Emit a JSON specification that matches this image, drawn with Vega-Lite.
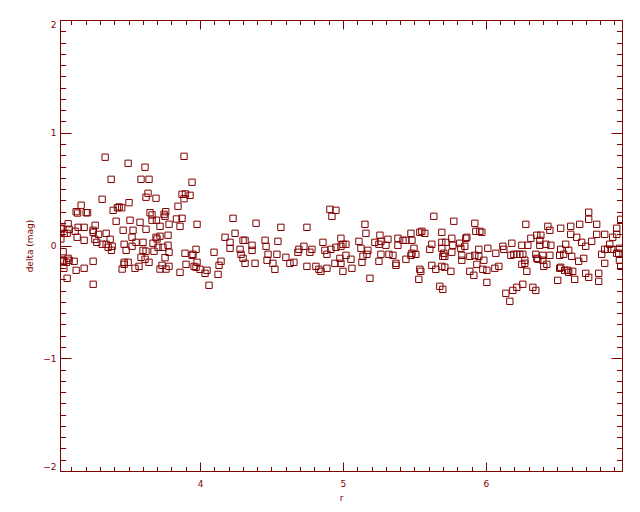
{
"$schema": "https://vega.github.io/schema/vega-lite/v6.json",
"width": 562, "height": 451,
"autosize": "none",
"padding": {"left": 60, "top": 20, "right": 18, "bottom": 41},
"background": "white",
"config": {
  "view": {"stroke": "#800000", "strokeWidth": 1},
  "axis": {"domain": false, "grid": false, "tickColor": "#800000", "labelColor": "#800000", "titleColor": "#800000", "labelFont": "DejaVu Sans", "titleFont": "DejaVu Sans", "labelFontSize": 9, "titleFontSize": 9, "titleFontWeight": "normal", "tickWidth": 1}
},
"data": {"values": [
{"r":3.336,"delta":0.783},{"r":3.497,"delta":0.729},{"r":3.615,"delta":0.694},{"r":3.888,"delta":0.791},{"r":3.378,"delta":0.587},{"r":3.587,"delta":0.587},{"r":3.643,"delta":0.587},{"r":3.944,"delta":0.561},{"r":3.636,"delta":0.463},{"r":3.622,"delta":0.428},
{"r":3.692,"delta":0.419},{"r":3.874,"delta":0.454},{"r":3.898,"delta":0.457},{"r":3.930,"delta":0.445},{"r":3.888,"delta":0.415},{"r":3.315,"delta":0.410},{"r":3.434,"delta":0.342},{"r":3.503,"delta":0.380},{"r":3.846,"delta":0.348},{"r":3.168,"delta":0.357},
{"r":3.133,"delta":0.300},{"r":3.143,"delta":0.288},{"r":3.203,"delta":0.291},{"r":3.213,"delta":0.291},{"r":3.392,"delta":0.312},{"r":3.422,"delta":0.335},{"r":3.452,"delta":0.335},{"r":3.650,"delta":0.291},{"r":3.664,"delta":0.271},{"r":3.760,"delta":0.300},
{"r":3.748,"delta":0.277},{"r":3.755,"delta":0.259},{"r":3.835,"delta":0.235},{"r":3.874,"delta":0.241},{"r":3.860,"delta":0.170},{"r":3.979,"delta":0.188},{"r":3.077,"delta":0.193},{"r":3.266,"delta":0.179},{"r":3.413,"delta":0.215},{"r":3.510,"delta":0.224},
{"r":3.580,"delta":0.206},{"r":3.664,"delta":0.224},{"r":3.695,"delta":0.224},{"r":3.720,"delta":0.170},{"r":3.783,"delta":0.188},{"r":3.622,"delta":0.144},{"r":3.462,"delta":0.135},{"r":3.531,"delta":0.135},{"r":3.031,"delta":0.146},{"r":3.084,"delta":0.144},
{"r":3.147,"delta":0.161},{"r":3.189,"delta":0.161},{"r":3.126,"delta":0.126},{"r":3.070,"delta":0.108},{"r":3.252,"delta":0.135},{"r":3.252,"delta":0.117},{"r":3.290,"delta":0.099},{"r":3.343,"delta":0.108},{"r":3.140,"delta":0.073},{"r":3.189,"delta":0.046},
{"r":3.264,"delta":0.055},{"r":3.278,"delta":0.028},{"r":3.315,"delta":0.011},{"r":3.343,"delta":0.011},{"r":3.371,"delta":0.055},{"r":3.357,"delta":-0.016},{"r":3.380,"delta":-0.043},{"r":3.385,"delta":-0.007},{"r":3.469,"delta":0.011},{"r":3.483,"delta":-0.043},
{"r":3.524,"delta":-0.007},{"r":3.524,"delta":0.073},{"r":3.552,"delta":0.028},{"r":3.601,"delta":0.028},{"r":3.601,"delta":-0.043},{"r":3.622,"delta":-0.051},{"r":3.678,"delta":-0.051},{"r":3.671,"delta":0.020},{"r":3.692,"delta":0.073},{"r":3.706,"delta":-0.016},
{"r":3.699,"delta":0.058},{"r":3.720,"delta":0.082},{"r":3.741,"delta":-0.016},{"r":3.776,"delta":0.002},{"r":3.755,"delta":-0.108},{"r":3.783,"delta":-0.060},{"r":3.776,"delta":0.091},{"r":3.587,"delta":-0.105},{"r":3.615,"delta":-0.122},{"r":3.643,"delta":-0.149},
{"r":3.573,"delta":-0.185},{"r":3.545,"delta":-0.202},{"r":3.455,"delta":-0.209},{"r":3.469,"delta":-0.149},{"r":3.497,"delta":-0.149},{"r":3.469,"delta":-0.167},{"r":3.720,"delta":-0.209},{"r":3.734,"delta":-0.176},{"r":3.762,"delta":-0.209},{"r":3.783,"delta":-0.185},
{"r":3.860,"delta":-0.238},{"r":3.902,"delta":-0.167},{"r":3.895,"delta":-0.069},{"r":3.944,"delta":-0.087},{"r":3.972,"delta":-0.034},{"r":3.951,"delta":-0.078},{"r":3.979,"delta":-0.149},{"r":3.958,"delta":-0.185},{"r":3.972,"delta":-0.193},{"r":4.000,"delta":-0.211},
{"r":4.035,"delta":-0.247},{"r":4.063,"delta":-0.353},{"r":3.252,"delta":-0.344},{"r":3.252,"delta":-0.140},{"r":3.189,"delta":-0.202},{"r":3.133,"delta":-0.220},{"r":3.119,"delta":-0.140},{"r":3.070,"delta":-0.291},{"r":3.047,"delta":-0.202},{"r":3.047,"delta":-0.140},
{"r":3.042,"delta":-0.055},{"r":3.038,"delta":-0.129},{"r":3.084,"delta":-0.131},{"r":3.066,"delta":-0.149},{"r":3.026,"delta":0.058},{"r":3.049,"delta":0.108},{"r":3.077,"delta":-0.114},{"r":3.026,"delta":0.153},
{"r":4.231,"delta":0.241},{"r":4.392,"delta":0.197},{"r":4.566,"delta":0.161},{"r":4.748,"delta":0.161},{"r":4.909,"delta":0.321},{"r":4.951,"delta":0.312},{"r":4.923,"delta":0.259},{"r":4.245,"delta":0.108},{"r":4.175,"delta":0.073},{"r":4.210,"delta":0.028},
{"r":4.210,"delta":-0.025},{"r":4.301,"delta":0.046},{"r":4.315,"delta":0.046},{"r":4.364,"delta":0.002},{"r":4.364,"delta":-0.043},{"r":4.280,"delta":-0.034},{"r":4.287,"delta":-0.078},{"r":4.301,"delta":-0.114},{"r":4.315,"delta":-0.158},{"r":4.385,"delta":-0.158},
{"r":4.455,"delta":0.046},{"r":4.462,"delta":-0.007},{"r":4.545,"delta":0.037},{"r":4.476,"delta":-0.078},{"r":4.538,"delta":-0.078},{"r":4.469,"delta":-0.131},{"r":4.510,"delta":-0.158},{"r":4.524,"delta":-0.211},{"r":4.601,"delta":-0.105},{"r":4.629,"delta":-0.158},
{"r":4.657,"delta":-0.149},{"r":4.727,"delta":-0.007},{"r":4.692,"delta":-0.034},{"r":4.685,"delta":-0.060},{"r":4.783,"delta":-0.034},{"r":4.769,"delta":-0.060},{"r":4.860,"delta":0.028},{"r":4.874,"delta":-0.043},{"r":4.888,"delta":-0.078},{"r":4.916,"delta":-0.034},
{"r":4.951,"delta":-0.016},{"r":4.986,"delta":0.064},{"r":4.986,"delta":-0.007},{"r":5.000,"delta":0.011},{"r":5.021,"delta":0.011},{"r":4.979,"delta":-0.114},{"r":5.021,"delta":-0.087},{"r":4.944,"delta":-0.158},{"r":4.986,"delta":-0.158},{"r":4.748,"delta":-0.185},
{"r":4.811,"delta":-0.185},{"r":4.832,"delta":-0.211},{"r":4.846,"delta":-0.229},{"r":4.888,"delta":-0.202},{"r":5.000,"delta":-0.229},{"r":4.098,"delta":-0.060},{"r":4.147,"delta":-0.140},{"r":4.133,"delta":-0.176},{"r":4.049,"delta":-0.220},{"r":4.126,"delta":-0.256},
{"r":5.154,"delta":0.188},{"r":5.161,"delta":0.108},{"r":5.259,"delta":0.091},{"r":5.224,"delta":0.028},{"r":5.266,"delta":0.037},{"r":5.252,"delta":0.011},{"r":5.301,"delta":0.002},{"r":5.315,"delta":0.055},{"r":5.112,"delta":0.037},{"r":5.126,"delta":-0.025},
{"r":5.175,"delta":-0.043},{"r":5.168,"delta":-0.078},{"r":5.140,"delta":-0.096},{"r":5.133,"delta":-0.149},{"r":5.056,"delta":-0.122},{"r":5.063,"delta":-0.202},{"r":5.189,"delta":-0.291},{"r":5.266,"delta":-0.078},{"r":5.252,"delta":-0.140},{"r":5.322,"delta":-0.078},
{"r":5.350,"delta":-0.087},{"r":5.371,"delta":-0.158},{"r":5.371,"delta":-0.176},{"r":5.385,"delta":0.064},{"r":5.385,"delta":0.002},{"r":5.420,"delta":0.046},{"r":5.441,"delta":0.046},{"r":5.476,"delta":0.108},{"r":5.483,"delta":0.046},{"r":5.441,"delta":-0.122},
{"r":5.497,"delta":-0.025},{"r":5.483,"delta":-0.069},{"r":5.476,"delta":-0.087},{"r":5.510,"delta":-0.078},{"r":5.538,"delta":0.117},{"r":5.552,"delta":0.126},{"r":5.573,"delta":0.108},{"r":5.636,"delta":0.259},{"r":5.776,"delta":0.215},{"r":5.692,"delta":0.117},
{"r":5.923,"delta":0.197},{"r":5.930,"delta":0.126},{"r":5.958,"delta":0.126},{"r":5.972,"delta":0.117},{"r":5.622,"delta":0.011},{"r":5.608,"delta":-0.034},{"r":5.692,"delta":0.028},{"r":5.692,"delta":-0.025},{"r":5.720,"delta":0.028},{"r":5.762,"delta":0.064},
{"r":5.769,"delta":0.002},{"r":5.762,"delta":-0.060},{"r":5.706,"delta":-0.069},{"r":5.713,"delta":-0.096},{"r":5.699,"delta":-0.096},{"r":5.818,"delta":0.020},{"r":5.825,"delta":-0.025},{"r":5.860,"delta":0.064},{"r":5.867,"delta":0.073},{"r":5.853,"delta":-0.007},
{"r":5.832,"delta":-0.087},{"r":5.832,"delta":-0.131},{"r":5.888,"delta":-0.096},{"r":5.923,"delta":-0.087},{"r":5.951,"delta":-0.034},{"r":5.951,"delta":-0.096},{"r":5.986,"delta":-0.131},{"r":6.014,"delta":-0.025},{"r":5.937,"delta":-0.167},{"r":5.979,"delta":-0.211},
{"r":6.007,"delta":-0.220},{"r":5.888,"delta":-0.229},{"r":5.916,"delta":-0.264},{"r":5.622,"delta":-0.176},{"r":5.650,"delta":-0.211},{"r":5.692,"delta":-0.185},{"r":5.713,"delta":-0.193},{"r":5.755,"delta":-0.229},{"r":5.538,"delta":-0.211},{"r":5.545,"delta":-0.229},
{"r":5.531,"delta":-0.300},{"r":5.678,"delta":-0.362},{"r":5.699,"delta":-0.389},{"r":6.007,"delta":-0.327},
{"r":6.280,"delta":0.188},{"r":6.434,"delta":0.170},{"r":6.448,"delta":0.135},{"r":6.524,"delta":0.153},{"r":6.594,"delta":0.170},{"r":6.657,"delta":0.188},{"r":6.720,"delta":0.295},{"r":6.720,"delta":0.232},{"r":6.776,"delta":0.188},{"r":6.916,"delta":0.153},
{"r":6.944,"delta":0.232},{"r":6.357,"delta":0.091},{"r":6.385,"delta":0.091},{"r":6.315,"delta":0.064},{"r":6.378,"delta":0.046},{"r":6.378,"delta":0.002},{"r":6.420,"delta":0.011},{"r":6.455,"delta":0.002},{"r":6.594,"delta":0.099},{"r":6.636,"delta":0.073},
{"r":6.671,"delta":0.028},{"r":6.699,"delta":-0.007},{"r":6.741,"delta":0.037},{"r":6.776,"delta":0.099},{"r":6.832,"delta":0.099},{"r":6.888,"delta":0.073},{"r":6.916,"delta":0.099},{"r":6.867,"delta":0.011},{"r":6.559,"delta":0.011},{"r":6.524,"delta":-0.034},
{"r":6.580,"delta":-0.043},{"r":6.601,"delta":-0.096},{"r":6.545,"delta":-0.078},{"r":6.517,"delta":-0.087},{"r":6.685,"delta":-0.114},{"r":6.650,"delta":-0.140},{"r":6.811,"delta":-0.078},{"r":6.832,"delta":-0.034},{"r":6.853,"delta":-0.034},{"r":6.881,"delta":-0.034},
{"r":6.916,"delta":-0.069},{"r":6.930,"delta":-0.069},{"r":6.832,"delta":-0.158},{"r":6.935,"delta":-0.131},{"r":6.944,"delta":-0.185},{"r":6.935,"delta":-0.025},{"r":6.070,"delta":-0.069},{"r":6.119,"delta":-0.007},{"r":6.126,"delta":-0.034},{"r":6.182,"delta":0.020},
{"r":6.175,"delta":-0.087},{"r":6.196,"delta":-0.078},{"r":6.217,"delta":-0.078},{"r":6.238,"delta":-0.078},{"r":6.259,"delta":-0.078},{"r":6.252,"delta":0.002},{"r":6.294,"delta":0.002},{"r":6.273,"delta":-0.131},{"r":6.273,"delta":-0.158},{"r":6.252,"delta":-0.167},
{"r":6.287,"delta":-0.229},{"r":6.350,"delta":-0.078},{"r":6.357,"delta":-0.114},{"r":6.364,"delta":-0.122},{"r":6.399,"delta":-0.087},{"r":6.399,"delta":-0.131},{"r":6.406,"delta":-0.185},{"r":6.427,"delta":-0.167},{"r":6.448,"delta":-0.087},{"r":6.063,"delta":-0.202},
{"r":6.091,"delta":-0.185},{"r":6.517,"delta":-0.202},{"r":6.524,"delta":-0.193},{"r":6.552,"delta":-0.220},{"r":6.573,"delta":-0.220},{"r":6.580,"delta":-0.238},{"r":6.608,"delta":-0.229},{"r":6.699,"delta":-0.247},{"r":6.720,"delta":-0.282},{"r":6.790,"delta":-0.247},
{"r":6.790,"delta":-0.318},{"r":6.622,"delta":-0.300},{"r":6.503,"delta":-0.309},{"r":6.259,"delta":-0.344},{"r":6.217,"delta":-0.371},{"r":6.189,"delta":-0.398},{"r":6.140,"delta":-0.424},{"r":6.168,"delta":-0.495},{"r":6.329,"delta":-0.371},{"r":6.350,"delta":-0.398}
]},
"resolve": {"axis": {"x": "independent", "y": "independent"}},
"layer": [
 {
  "mark": {"type": "point", "shape": "square", "filled": false, "stroke": "#800000", "strokeWidth": 1, "size": 40, "opacity": 1, "clip": true},
  "encoding": {
   "x": {"field": "r", "type": "quantitative", "scale": {"domain": [3.02, 6.953], "nice": false, "zero": false},
         "axis": {"orient": "bottom", "values": [4, 5, 6], "ticks": false, "labelPadding": 8, "title": "r", "titlePadding": 5}},
   "y": {"field": "delta", "type": "quantitative", "scale": {"domain": [-2, 2], "nice": false, "zero": false},
         "axis": {"orient": "left", "values": [-2, -1, 0, 1, 2], "ticks": false, "labelPadding": 4, "labelFlush": true, "title": "delta (mag)", "titlePadding": 8}}
  }
 },
 {
  "mark": {"type": "point", "opacity": 0},
  "encoding": {
   "x": {"field": "r", "type": "quantitative", "axis": {"orient": "bottom", "values": [4, 5, 6], "labels": false, "tickSize": -9, "title": null}},
   "y": {"field": "delta", "type": "quantitative", "axis": {"orient": "left", "values": [-2, -1, 0, 1, 2], "labels": false, "tickSize": -11, "title": null}}
  }
 },
 {
  "mark": {"type": "point", "opacity": 0},
  "encoding": {
   "x": {"field": "r", "type": "quantitative", "axis": {"orient": "bottom", "values": [3.1,3.2,3.3,3.4,3.5,3.6,3.7,3.8,3.9,4.1,4.2,4.3,4.4,4.5,4.6,4.7,4.8,4.9,5.1,5.2,5.3,5.4,5.5,5.6,5.7,5.8,5.9,6.1,6.2,6.3,6.4,6.5,6.6,6.7,6.8,6.9], "labels": false, "tickSize": -4.5, "title": null}},
   "y": {"field": "delta", "type": "quantitative", "axis": {"orient": "left", "values": [-1.9,-1.8,-1.7,-1.6,-1.5,-1.4,-1.3,-1.2,-1.1,-0.9,-0.8,-0.7,-0.6,-0.5,-0.4,-0.3,-0.2,-0.1,0.1,0.2,0.3,0.4,0.5,0.6,0.7,0.8,0.9,1.1,1.2,1.3,1.4,1.5,1.6,1.7,1.8,1.9], "labels": false, "tickSize": -5.6, "title": null}}
  }
 },
 {
  "mark": {"type": "point", "opacity": 0},
  "encoding": {
   "x": {"field": "r", "type": "quantitative", "axis": {"orient": "top", "values": [4, 5, 6], "labels": false, "tickSize": -9, "title": null}},
   "y": {"field": "delta", "type": "quantitative", "axis": {"orient": "right", "values": [-2, -1, 0, 1, 2], "labels": false, "tickSize": -11, "title": null}}
  }
 },
 {
  "mark": {"type": "point", "opacity": 0},
  "encoding": {
   "x": {"field": "r", "type": "quantitative", "axis": {"orient": "top", "values": [3.1,3.2,3.3,3.4,3.5,3.6,3.7,3.8,3.9,4.1,4.2,4.3,4.4,4.5,4.6,4.7,4.8,4.9,5.1,5.2,5.3,5.4,5.5,5.6,5.7,5.8,5.9,6.1,6.2,6.3,6.4,6.5,6.6,6.7,6.8,6.9], "labels": false, "tickSize": -4.5, "title": null}},
   "y": {"field": "delta", "type": "quantitative", "axis": {"orient": "right", "values": [-1.9,-1.8,-1.7,-1.6,-1.5,-1.4,-1.3,-1.2,-1.1,-0.9,-0.8,-0.7,-0.6,-0.5,-0.4,-0.3,-0.2,-0.1,0.1,0.2,0.3,0.4,0.5,0.6,0.7,0.8,0.9,1.1,1.2,1.3,1.4,1.5,1.6,1.7,1.8,1.9], "labels": false, "tickSize": -5.6, "title": null}}
  }
 }
]
}
